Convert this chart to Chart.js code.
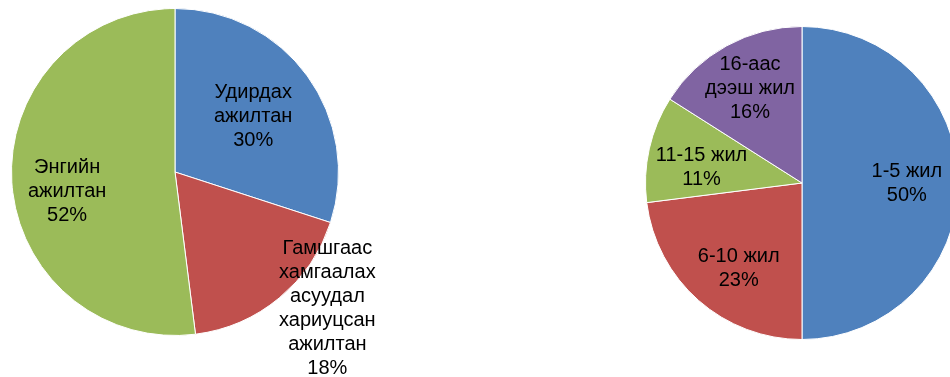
<!DOCTYPE html>
<html>
<head>
<meta charset="utf-8">
<script src="https://cdn.jsdelivr.net/npm/chart.js@4/dist/chart.umd.min.js"></script>
<style>
  html, body { margin: 0; padding: 0; background: #fff; width: 950px; height: 377px; overflow: hidden; position: relative; }
  .box { position: absolute; top: 0; height: 377px; }
  #leftBox  { left: 0;   width: 420px; }
  #rightBox { left: 475px; width: 500px; }
</style>
</head>
<body>
<div class="box" id="leftBox"><canvas id="leftPie" width="420" height="377"></canvas></div>
<div class="box" id="rightBox"><canvas id="rightPie" width="500" height="377"></canvas></div>
<script>
// Ажилтны ангилал (зүүн)
const STAFF_LABELS = [
  ["Удирдах", "ажилтан"],
  ["Гамшгаас", "хамгаалах", "асуудал", "хариуцсан", "ажилтан"],
  ["Энгийн", "ажилтан"]
];
const STAFF_VALUES = [30, 18, 52];

// Ажилласан жил (баруун)
const YEARS_LABELS = [
  ["1-5 жил"],
  ["6-10 жил"],
  ["11-15 жил"],
  ["16-аас", "дээш жил"]
];
const YEARS_VALUES = [50, 23, 11, 16];

const COLORS = ["#4F81BD", "#C0504D", "#9BBB59", "#8064A2"];

// Шошгоны байрлал: радиусын харьцаа, өнцгийн шилжилт (градус)
const LABEL_POS = {
  leftPie:  [[0.585, 0.8], [1.25, -8.6], [0.67, -6.4]],
  rightPie: [[0.67, 0], [0.68, -4.9], [0.65, -3.6], [0.69, 0]]
};

const sliceLabels = {
  id: "sliceLabels",
  afterDatasetsDraw(chart) {
    const ctx = chart.ctx;
    const meta = chart.getDatasetMeta(0);
    const pos = LABEL_POS[chart.canvas.id];
    const vals = chart.data.datasets[0].data;
    ctx.save();
    ctx.font = "20px 'Liberation Sans', Arial, sans-serif";
    ctx.fillStyle = "#000";
    ctx.textAlign = "center";
    ctx.textBaseline = "middle";
    meta.data.forEach((arc, i) => {
      const p = arc.getProps(["x", "y", "startAngle", "endAngle", "outerRadius"], true);
      const [frac, shift] = pos[i];
      const mid = (p.startAngle + p.endAngle) / 2 + shift * Math.PI / 180;
      const cx = p.x + Math.cos(mid) * p.outerRadius * frac;
      const cy = p.y + Math.sin(mid) * p.outerRadius * frac;
      const lines = [...chart.data.labels[i], vals[i] + "%"];
      const lh = 24;
      const top = cy - (lines.length - 1) * lh / 2;
      lines.forEach((t, j) => ctx.fillText(t, cx, top + j * lh));
    });
    ctx.restore();
  }
};

function makePie(id, labels, values, padding) {
  return new Chart(document.getElementById(id), {
    type: "pie",
    data: {
      labels: labels,
      datasets: [{
        data: values,
        backgroundColor: COLORS.slice(0, values.length),
        borderColor: "#ffffff",
        borderWidth: 1
      }]
    },
    options: {
      responsive: false,
      animation: false,
      layout: { padding: padding },
      plugins: { legend: { display: false }, tooltip: { enabled: false } }
    },
    plugins: [sliceLabels]
  });
}

makePie("leftPie", STAFF_LABELS, STAFF_VALUES, { left: 11, top: 8, right: 81, bottom: 41 });
makePie("rightPie", YEARS_LABELS, YEARS_VALUES, { left: 170, top: 26, right: 16, bottom: 37 });
</script>
</body>
</html>
